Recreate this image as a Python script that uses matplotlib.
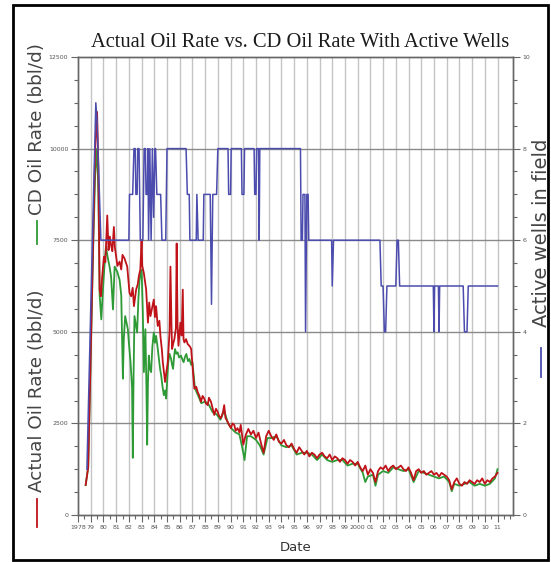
import matplotlib
matplotlib.use("Agg")
import matplotlib.pyplot as plt
from matplotlib.lines import Line2D
from matplotlib.patches import Rectangle
from matplotlib.ticker import MultipleLocator, FixedLocator

# ---- data ----
actual_years = [
    1978.6, 1978.8, 1979.0, 1979.2, 1979.35, 1979.5, 1979.6, 1979.7, 1979.8, 1979.9,
    1980.04, 1980.15, 1980.3, 1980.4, 1980.5, 1980.6, 1980.7, 1980.82, 1980.9, 1981.0,
    1981.1, 1981.27, 1981.4, 1981.5, 1981.66, 1981.87, 1982.05, 1982.18, 1982.3, 1982.4,
    1982.57, 1982.7, 1982.78, 1982.9, 1983.0, 1983.05, 1983.18, 1983.36, 1983.5, 1983.6,
    1983.7, 1983.8, 1983.96, 1984.05, 1984.14, 1984.27, 1984.4, 1984.48, 1984.6, 1984.67,
    1984.85, 1984.95, 1985.06, 1985.2, 1985.27, 1985.35, 1985.4, 1985.5, 1985.58, 1985.7,
    1985.76, 1985.83, 1985.9, 1986.05, 1986.15, 1986.24, 1986.3, 1986.37, 1986.5, 1986.63,
    1986.8, 1986.9, 1987.0, 1987.15, 1987.3, 1987.41, 1987.55, 1987.67, 1987.8, 1987.93,
    1988.05, 1988.2, 1988.3, 1988.46, 1988.6, 1988.72, 1988.85, 1988.98, 1989.1, 1989.24,
    1989.4, 1989.5, 1989.6, 1989.76, 1989.9, 1990.03, 1990.15, 1990.29, 1990.4, 1990.55,
    1990.7, 1990.8, 1990.9, 1991.0, 1991.2, 1991.4, 1991.6, 1991.8, 1992.0, 1992.2,
    1992.4, 1992.6, 1992.8, 1993.0, 1993.2, 1993.4, 1993.6, 1993.8, 1994.0, 1994.2,
    1994.4, 1994.6, 1994.8, 1995.0, 1995.2, 1995.4, 1995.6, 1995.8, 1996.0, 1996.2,
    1996.4, 1996.6, 1996.8, 1997.0, 1997.2, 1997.4, 1997.6, 1997.8, 1998.0, 1998.2,
    1998.4, 1998.6, 1998.8, 1999.0, 1999.2, 1999.4, 1999.6, 1999.8, 2000.0, 2000.2,
    2000.4, 2000.6, 2000.8, 2001.0, 2001.2, 2001.4, 2001.6, 2001.8, 2002.0, 2002.2,
    2002.4, 2002.6, 2002.8, 2003.0, 2003.2, 2003.4, 2003.6, 2003.8, 2004.0, 2004.2,
    2004.4, 2004.6, 2004.8, 2005.0, 2005.2, 2005.4, 2005.6, 2005.8, 2006.0, 2006.2,
    2006.4, 2006.6, 2006.8, 2007.0, 2007.2, 2007.4, 2007.6, 2007.8, 2008.0, 2008.2,
    2008.4, 2008.6, 2008.8, 2009.0, 2009.2, 2009.4, 2009.6, 2009.8, 2010.0, 2010.2,
    2010.4, 2010.6, 2010.8, 2011.0,
]
actual_rate = [
    820, 1300, 4500, 7600, 10000, 11000, 9500, 6150, 5970, 6500,
    7050, 6900, 8175, 7230, 7600, 7365, 7200, 7860, 7300, 7050,
    6800, 6915, 6700, 7100, 7000, 6780, 6060, 5970, 6200, 5700,
    6150, 6300, 6510, 6700, 7500, 6800, 6600, 6150, 5250, 5800,
    5430, 5600, 5880, 5400, 5700, 5160, 5300, 4890, 4500, 4170,
    3630, 3900, 4170, 5000, 6780, 5200, 4530, 4700, 4800, 5100,
    7410, 5200, 4620, 5250, 4900, 6150, 4800, 4710, 4800, 4665,
    4600, 4530, 4100, 3450, 3500, 3360, 3250, 3090, 3250, 3180,
    3050, 3000, 3200, 3090, 2900, 2730, 2900, 2820, 2700, 2640,
    2800, 3000, 2650, 2550, 2450, 2370, 2500, 2460, 2300, 2370,
    2250, 2460, 2200, 1920, 2190, 2350, 2200, 2300, 2100, 2250,
    1950, 1700, 2150, 2300, 2150, 2050, 2200, 2000, 1950, 2050,
    1900, 1850, 1950, 1800, 1700, 1850, 1750, 1650, 1750, 1600,
    1700, 1650, 1550, 1650, 1700, 1600, 1550, 1650, 1500, 1600,
    1550, 1450, 1550, 1500, 1400, 1500, 1450, 1350, 1450, 1300,
    1200, 1350, 1100, 1250, 1150, 900, 1200, 1300, 1250, 1350,
    1200, 1300, 1350, 1250, 1300, 1350, 1250, 1200, 1300, 1150,
    950, 1200, 1250, 1150, 1200, 1100, 1150, 1200, 1100, 1150,
    1050, 1150, 1100, 1050, 950, 700, 900, 1000, 850, 800,
    900, 850, 950, 900, 850, 950, 900, 1000, 850, 950,
    900, 1000, 1050, 1150,
]

cd_years = [
    1978.6, 1978.8, 1979.0, 1979.2, 1979.35, 1979.5, 1979.6, 1979.7, 1979.83, 1979.96,
    1980.1, 1980.2, 1980.35, 1980.48, 1980.6, 1980.75, 1980.88, 1981.0, 1981.08, 1981.27,
    1981.4, 1981.53, 1981.6, 1981.71, 1981.92, 1982.0, 1982.13, 1982.25, 1982.31, 1982.37,
    1982.44, 1982.55, 1982.65, 1982.75, 1982.84, 1983.0, 1983.1, 1983.18, 1983.3, 1983.38,
    1983.44, 1983.5, 1983.57, 1983.65, 1983.75, 1983.85, 1983.96, 1984.05, 1984.14, 1984.25,
    1984.33, 1984.45, 1984.54, 1984.65, 1984.75, 1984.85, 1984.93, 1985.02, 1985.1, 1985.2,
    1985.32, 1985.4, 1985.48, 1985.55, 1985.63, 1985.74, 1985.84, 1985.95, 1986.1, 1986.2,
    1986.31, 1986.4, 1986.52, 1986.65, 1986.76, 1986.9, 1987.0, 1987.2, 1987.4, 1987.7,
    1988.0, 1988.3, 1988.6, 1988.9, 1989.2, 1989.5, 1989.8, 1990.1, 1990.4, 1990.7,
    1991.0, 1991.1, 1991.3, 1991.6, 1992.0, 1992.3, 1992.6, 1992.9, 1993.2, 1993.6,
    1994.0, 1994.4, 1994.8, 1995.2, 1995.6, 1996.0, 1996.4, 1996.8, 1997.2, 1997.6,
    1998.0, 1998.4, 1998.8, 1999.2, 1999.6, 2000.0, 2000.4, 2000.6, 2000.8, 2001.2,
    2001.4, 2001.6, 2002.0, 2002.4, 2002.8, 2003.2, 2003.6, 2004.0, 2004.4, 2004.8,
    2005.2, 2005.6, 2006.0, 2006.4, 2006.8, 2007.2, 2007.4, 2007.6, 2008.0, 2008.4,
    2008.8, 2009.2, 2009.6, 2010.0, 2010.4, 2010.8, 2011.0,
]
cd_rate = [
    820, 1300, 4400, 7400, 9300, 10000, 8800, 6000, 5340, 6150,
    6900, 7320, 7000, 6780, 6510, 5610, 6780, 6700, 6645, 6420,
    6000, 3720, 4800, 5430, 5070, 4700, 4170, 3500, 1560, 3800,
    5430, 5200, 4980, 5900, 6420, 6690, 5500, 3900, 5070, 3500,
    1920, 3600, 4350, 4000, 3900, 4600, 4980, 4700, 4890, 4600,
    4350, 4000, 3810, 3500, 3270, 3400, 3180, 3700, 4170, 4400,
    4260, 4100, 3990, 4300, 4530, 4400, 4440, 4300, 4350, 4250,
    4170, 4300, 4395, 4200, 4260, 4100, 4170, 3450, 3300, 3050,
    3100, 3000, 2800, 2750, 2600, 2850, 2500, 2350, 2250, 2200,
    1700, 1500, 2150, 2150, 2050, 1900, 1650, 2100, 2100, 2150,
    1900, 1850, 1900, 1650, 1700, 1700, 1650, 1500, 1650, 1500,
    1450, 1500, 1500, 1350, 1400, 1400, 1150, 900, 1050, 1100,
    800, 1100, 1200, 1150, 1300, 1250, 1200, 1250, 900, 1200,
    1150, 1100, 1050, 1000, 1050, 900, 650, 850, 800, 850,
    900, 800, 850, 800, 850, 1000, 1250,
]

well_years = [
    1978.7, 1979.0, 1979.4, 1979.5, 1979.8, 1982.0, 1982.05, 1982.3, 1982.4, 1982.5,
    1982.55, 1982.65, 1982.7, 1982.8, 1982.9, 1983.1, 1983.2, 1983.3, 1983.35, 1983.45,
    1983.5, 1983.55, 1983.65, 1983.75, 1983.85, 1983.95, 1984.05, 1984.1, 1984.2, 1984.5,
    1984.6, 1984.9, 1985.0, 1986.5, 1986.6, 1986.75, 1986.8, 1987.3, 1987.35, 1987.45,
    1987.85, 1987.9, 1988.4, 1988.5, 1988.6, 1988.9, 1989.0, 1989.8, 1989.85, 1990.0,
    1990.05, 1990.85, 1990.9, 1991.05, 1991.1, 1991.85, 1991.9, 1992.0, 1992.05, 1992.2,
    1992.25, 1992.3, 1995.5, 1995.55, 1995.65, 1995.7, 1995.85, 1995.9, 1996.0, 1996.1,
    1996.15, 1996.25, 1997.95, 1998.0, 1998.1, 2001.75, 2001.85, 2002.0, 2002.1, 2002.2,
    2002.3, 2003.0, 2003.1, 2003.2, 2003.3, 2005.95, 2006.0, 2006.05, 2006.35, 2006.4,
    2006.45, 2008.3, 2008.4, 2008.6, 2008.7, 2011.0,
]
active_wells = [
    1.0, 4.5, 9.0, 8.6, 6.0, 6.0, 7.0, 7.0, 8.0, 8.0,
    7.0, 7.0, 8.0, 8.0, 6.0, 6.0, 8.0, 8.0, 7.0, 7.0,
    8.0, 6.0, 8.0, 6.0, 8.0, 6.5, 8.0, 8.0, 7.0, 7.0,
    6.0, 6.0, 8.0, 8.0, 7.0, 7.0, 6.0, 6.0, 7.0, 6.0,
    6.0, 7.0, 7.0, 4.6, 7.0, 7.0, 8.0, 8.0, 7.0, 7.0,
    8.0, 8.0, 7.0, 7.0, 8.0, 8.0, 7.0, 7.0, 8.0, 8.0,
    6.0, 8.0, 8.0, 6.0, 6.0, 7.0, 7.0, 4.0, 7.0, 7.0,
    6.0, 6.0, 6.0, 5.0, 6.0, 6.0, 5.0, 5.0, 4.0, 4.0,
    5.0, 5.0, 6.0, 6.0, 5.0, 5.0, 4.0, 5.0, 5.0, 4.0,
    5.0, 5.0, 4.0, 4.0, 5.0, 5.0,
]

year_ticks = list(range(1978, 2012))
year_labels = ["1978", "79", "80", "81", "82", "83", "84", "85", "86", "87",
               "88", "89", "90", "91", "92", "93", "94", "95", "96", "97",
               "98", "99", "2000", "01", "02", "03", "04", "05", "06", "07",
               "08", "09", "10", "11"]
rate_ticks = [0, 2500, 5000, 7500, 10000, 12500]
well_ticks = [0, 2, 4, 6, 8, 10]

RED = "#bf1219"
GREEN = "#2e9a35"
BLUE = "#4b4cae"
AXCOL = "#666666"


def main():
    fig = plt.figure(figsize=(5.51, 5.62), dpi=100)
    ax = fig.add_axes([0.1416, 0.0836, 0.789, 0.815])
    ax2 = ax.twinx()

    # year grid (light) and rate grid (darker)
    for yr in year_ticks[1:]:
        ax.axvline(yr, color="#c4c4c4", lw=1.0, zorder=0)
    for r in rate_ticks[1:-1]:
        ax.axhline(r, color="#8a8a8a", lw=1.0, zorder=0)

    ax.plot(cd_years, cd_rate, color=GREEN, lw=1.3, zorder=2)
    ax.plot(actual_years, actual_rate, color=RED, lw=1.3, zorder=3)
    ax2.plot(well_years, active_wells, color=BLUE, lw=1.1)

    ax.set_xlim(1978, 2012.2)
    ax.set_ylim(0, 12500)
    ax2.set_ylim(0, 10)

    ax.xaxis.set_major_locator(FixedLocator(year_ticks))
    ax.set_xticklabels(year_labels)
    ax.xaxis.set_minor_locator(MultipleLocator(0.5))
    ax.yaxis.set_major_locator(FixedLocator(rate_ticks))
    ax.yaxis.set_minor_locator(MultipleLocator(625))
    ax2.yaxis.set_major_locator(FixedLocator(well_ticks))
    ax2.yaxis.set_minor_locator(MultipleLocator(0.5))

    for a in (ax, ax2):
        for s in a.spines.values():
            s.set_color(AXCOL)
            s.set_linewidth(1.0)
    ax.tick_params(axis="both", which="major", length=5, width=0.8, color=AXCOL,
                   labelsize=4.5, labelcolor="#555555", pad=2)
    ax.tick_params(axis="both", which="minor", length=3, width=0.8, color=AXCOL)
    ax2.tick_params(axis="y", which="major", length=5, width=0.8, color=AXCOL,
                    labelsize=4.5, labelcolor="#555555", pad=2)
    ax2.tick_params(axis="y", which="minor", length=3, width=0.8, color=AXCOL)

    ax.set_xlabel("Date", fontsize=9.5, color="#333333", labelpad=8)

    fig.text(0.544, 0.924, "Actual Oil Rate vs. CD Oil Rate With Active Wells",
             ha="center", va="center", fontsize=14.8, family="Liberation Serif",
             color="#1a1a1a")

    # left-side colour keys
    fig.text(0.067, 0.617, "CD Oil Rate (bbl/d)", rotation=90, ha="center",
             va="bottom", fontsize=13.2, color="#444444")
    fig.add_artist(Line2D([0.067, 0.067], [0.566, 0.607], color=GREEN, lw=1.3,
                          transform=fig.transFigure))
    fig.text(0.067, 0.125, "Actual Oil Rate (bbl/d)", rotation=90, ha="center",
             va="bottom", fontsize=13.2, color="#444444")
    fig.add_artist(Line2D([0.067, 0.067], [0.062, 0.112], color=RED, lw=1.3,
                          transform=fig.transFigure))

    # right-side key
    fig.text(0.982, 0.585, "Active wells in field", rotation=90, ha="center",
             va="center", fontsize=14, color="#444444")
    fig.add_artist(Line2D([0.982, 0.982], [0.329, 0.381], color=BLUE, lw=1.3,
                          transform=fig.transFigure))

    # black frame around the figure
    fig.add_artist(Rectangle((0.024, 0.004), 0.97, 0.987, fill=False,
                             edgecolor="black", lw=2.0, transform=fig.transFigure))

    fig.savefig("out.png", dpi=100)


if __name__ == "__main__":
    main()
